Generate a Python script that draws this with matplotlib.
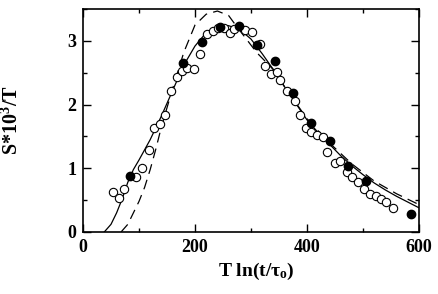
import matplotlib
matplotlib.use("Agg")
import matplotlib.pyplot as plt
from matplotlib.ticker import MultipleLocator

# filled circles
filled_x = [84, 179, 213, 245, 278, 311, 343, 375, 408, 441, 473, 505, 585]
filled_y = [0.88, 2.65, 2.99, 3.22, 3.23, 2.93, 2.69, 2.18, 1.71, 1.43, 1.03, 0.80, 0.29]

# open circles
open_x = [53, 64, 74, 95, 106, 118, 127, 137, 146, 158, 168, 176, 185, 198, 209,
          221, 233, 241, 252, 262, 269, 289, 302, 316, 325, 335, 346, 352, 365,
          378, 388, 398, 408, 418, 429, 436, 450, 459, 471, 481, 491, 501, 512,
          523, 533, 542, 553]
open_y = [0.62, 0.54, 0.67, 0.86, 1.00, 1.29, 1.64, 1.70, 1.83, 2.21, 2.43, 2.53,
          2.58, 2.56, 2.79, 3.11, 3.16, 3.20, 3.21, 3.13, 3.18, 3.17, 3.14, 2.95,
          2.61, 2.48, 2.52, 2.38, 2.22, 2.06, 1.83, 1.64, 1.57, 1.52, 1.49, 1.25,
          1.09, 1.12, 0.94, 0.87, 0.79, 0.67, 0.59, 0.56, 0.51, 0.47, 0.37]

# solid curve
solid_x = [38, 50, 60, 70, 80, 90, 100, 120, 140, 160, 180, 200, 220, 240, 260,
           280, 300, 320, 340, 360, 380, 400, 420, 440, 460, 480, 500, 520, 540,
           560, 580, 600]
solid_y = [0.0, 0.12, 0.30, 0.52, 0.78, 0.98, 1.13, 1.45, 1.82, 2.22, 2.62, 2.92,
           3.13, 3.23, 3.24, 3.18, 3.03, 2.80, 2.55, 2.28, 2.02, 1.76, 1.56, 1.38,
           1.20, 1.04, 0.90, 0.77, 0.66, 0.56, 0.47, 0.38]

# dashed curve
dash_x = [68, 80, 90, 100, 110, 120, 130, 140, 160, 180, 200, 220, 240, 260, 275,
          290, 310, 340, 360, 400, 440, 480, 520, 560, 600]
dash_y = [0.0, 0.12, 0.30, 0.48, 0.70, 0.98, 1.30, 1.65, 2.25, 2.82, 3.25, 3.42,
          3.47, 3.40, 3.22, 3.05, 2.82, 2.55, 2.28, 1.78, 1.40, 1.07, 0.80, 0.60,
          0.43]

plt.rcParams['font.family'] = ['Liberation Serif', 'DejaVu Serif']
plt.rcParams['font.weight'] = 'bold'
plt.rcParams['mathtext.fontset'] = 'custom'
plt.rcParams['mathtext.rm'] = 'Liberation Serif:bold'
plt.rcParams['mathtext.it'] = 'Liberation Serif:bold'
plt.rcParams['mathtext.bf'] = 'Liberation Serif:bold'

fig = plt.figure(figsize=(4.38, 2.94), dpi=100)
ax = fig.add_axes([0.1895, 0.211, 0.767, 0.758])

ax.plot(solid_x, solid_y, color='black', lw=0.9)
ax.plot(dash_x, dash_y, color='black', lw=0.9, ls=(0, (8, 5)))
ax.plot(open_x, open_y, 'o', ms=6, mfc='white', mec='black', mew=0.8)
ax.plot(filled_x, filled_y, 'o', ms=6, mfc='black', mec='black')

ax.set_xlim(0, 600)
ax.set_ylim(0, 3.5)
ax.xaxis.set_major_locator(MultipleLocator(200))
ax.xaxis.set_minor_locator(MultipleLocator(100))
ax.yaxis.set_major_locator(MultipleLocator(1))
ax.yaxis.set_minor_locator(MultipleLocator(0.5))
ax.tick_params(which='both', direction='in', top=True, right=True, width=1)
ax.tick_params(which='major', length=6, labelsize=13, pad=5)
ax.tick_params(which='minor', length=3)
for s in ax.spines.values():
    s.set_linewidth(1.2)

ax.set_xlabel(r'T ln(t/$\mathbf{\tau_o}$)', fontsize=14, fontweight='bold')
ax.xaxis.set_label_coords(0.515, -0.13)
ax.set_ylabel(r'S*10$^\mathbf{3}$/T', fontsize=14.5, fontweight='bold')
ax.yaxis.set_label_coords(-0.178, 0.5)

fig.savefig('out.png', dpi=100)
